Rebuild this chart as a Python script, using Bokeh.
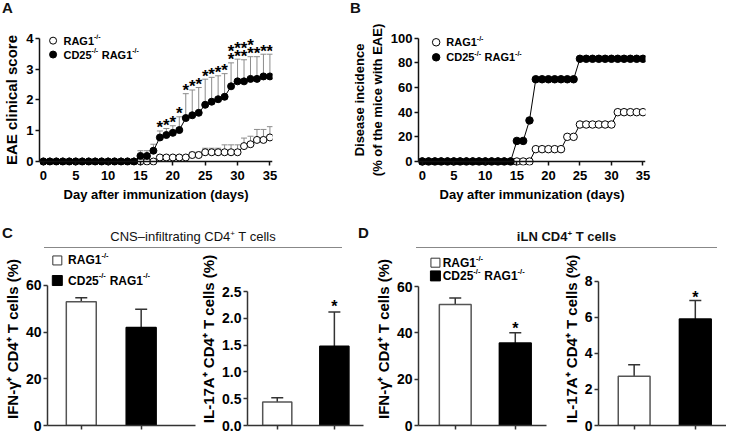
from bokeh.plotting import figure
from bokeh.models import (ColumnDataSource, Whisker, TeeHead, Label, Div, Range1d, Span,
                          FixedTicker, NumeralTickFormatter, CustomJSTickFormatter)
from bokeh.layouts import column, row
from bokeh.embed import file_html
from bokeh.resources import INLINE
from bokeh.core.properties import value

FONT = "Liberation Sans"

# ---------------- data ----------------
days = list(range(36))
day_ticks = [0, 5, 10, 15, 20, 25, 30, 35]

# Panel A: EAE clinical score (mean and mean+SEM)
eae_rag = [0] * 18 + [0.13] * 5 + [0.21] * 2 + [0.3] * 6 + [0.5, 0.56, 0.7, 0.7, 0.78]
eae_rag_upper = [0] * 18 + [0.13] * 5 + [0.3] * 2 + [0.43] * 3 + [0.54] * 3 + [0.76, 0.82, 1.04, 1.04, 1.13]
eae_cd25 = [0] * 15 + [0.18, 0.18, 0.35, 0.78, 0.86, 0.93, 1.02, 1.41, 1.5, 1.58, 1.84, 1.94,
                       2.02, 2.1, 2.44, 2.6, 2.6, 2.68, 2.68, 2.76, 2.76]
eae_cd25_upper = [0] * 15 + [0.35, 0.35, 0.56, 0.99, 1.07, 1.16, 1.45, 2.2, 2.32, 2.4, 2.67, 2.73,
                             2.78, 2.85, 3.2, 3.32, 3.3, 3.4, 3.4, 3.48, 3.48]
eae_ticks = [0, 1, 2, 3, 4]
star_days = list(range(18, 36))
double_star_days = [29, 30, 31, 32]

# Panel B: disease incidence (%)
inc_rag = [0] * 18 + [10] * 5 + [20] * 2 + [30] * 6 + [40] * 5
inc_cd25 = [0] * 15 + [16.7, 16.7, 33.3] + [66.7] * 7 + [83.3] * 11
inc_ticks = [0, 20, 40, 60, 80, 100]

# Panels C / D: bars (mean, mean+SEM), groups RAG1-/- and CD25-/- RAG1-/-
groups = ["RAG1-/-", "CD25-/- RAG1-/-"]
group_x = [1, 2]
cns_ifn = [53.0, 42.0]
cns_ifn_upper = [54.7, 49.8]
cns_ifn_sig = [False, False]
cns_il17 = [0.44, 1.48]
cns_il17_upper = [0.52, 2.12]
cns_il17_sig = [False, True]
iln_ifn = [52.2, 35.6]
iln_ifn_upper = [55.1, 40.0]
iln_ifn_sig = [False, True]
iln_il17 = [2.74, 5.92]
iln_il17_upper = [3.38, 6.94]
iln_il17_sig = [False, True]
pct_ticks = [0, 20, 40, 60]
il17_c_ticks = [0, 0.5, 1.0, 1.5, 2.0, 2.5]
il17_d_ticks = [0, 2, 4, 6, 8]

# ---------------- helpers ----------------
W = {"R": .722, "A": .722, "G": .778, "1": .556, "C": .722, "D": .722, "2": .556,
     "5": .556, " ": .278, "-": .333, "/": .278}


def tw(s, px):
    return sum(W.get(c, .6) for c in s) * px


def style_axes(p, tick_px=13, label_px=15, color="#111", tick_so=2, label_so=3):
    p.outline_line_color = None
    p.xgrid.visible = False
    p.ygrid.visible = False
    for ax in p.axis:
        ax.axis_line_color = color
        ax.axis_line_width = 1.5
        ax.major_tick_line_color = color
        ax.major_tick_line_width = 1.5
        ax.major_tick_out = 4
        ax.major_tick_in = 0
        ax.minor_tick_line_color = None
        ax.major_label_text_font = FONT
        ax.major_label_text_font_style = "bold"
        ax.major_label_text_font_size = f"{tick_px}px"
        ax.major_label_text_color = "black"
        ax.axis_label_text_font = FONT
        ax.axis_label_text_font_style = "bold"
        ax.axis_label_text_font_size = f"{label_px}px"
        ax.axis_label_text_color = "black"
        ax.major_label_standoff = tick_so
        ax.axis_label_standoff = label_so


def rich_label(p, x, y, parts, px, sup_px):
    off = 0.0
    for txt, sup, gap in parts:
        off += gap * px
        fs = sup_px if sup else px
        p.add_layout(Label(x=x, y=y, x_offset=off, y_offset=(px * 0.38 if sup else 0),
                           text=txt, text_font=FONT, text_font_style="bold",
                           text_font_size=f"{fs}px", text_baseline="middle",
                           text_color="black"))
        off += tw(txt, fs) + (0.5 if sup else 0)


LEG_A = [("RAG1", False, 0), ("-/-", True, 0)]
LEG_B = [("CD25", False, 0), ("-/-", True, 0), ("RAG1", False, 0.278), ("-/-", True, 0)]


def stars(p, xs, ys, px):
    p.text(x=xs, y=ys, text=["*"] * len(xs), text_font=value(FONT), text_font_style="bold",
           text_font_size=f"{px}px", text_align="center", text_baseline="middle",
           text_color="black")


# ---------------- top panels (time courses) ----------------
TOP_TOP = 18
TOP_BOT = 51
TOP_FRAME_H = 131
ZERO_GAP_PX = 4  # x-axis line sits at 0, frame bottom a tick-length below


def time_panel(frame_w, border_left, border_right, y_end, ticks, ylabel, ylabel_px):
    ppu = (TOP_FRAME_H - ZERO_GAP_PX) / y_end
    y0 = -ZERO_GAP_PX / ppu
    p = figure(frame_width=frame_w, frame_height=TOP_FRAME_H, x_range=Range1d(-0.6, 35.4),
               y_range=Range1d(y0, y_end),
               min_border_left=border_left, min_border_right=border_right,
               min_border_top=TOP_TOP, min_border_bottom=TOP_BOT,
               toolbar_location=None, output_backend="svg")
    style_axes(p, label_px=ylabel_px, tick_so=5, label_so=4)
    p.yaxis.major_label_standoff = 2
    p.yaxis.axis_label_standoff = 3
    p.xaxis.axis_label_text_font_size = "13px"
    p.xaxis.ticker = FixedTicker(ticks=day_ticks)
    p.yaxis.ticker = FixedTicker(ticks=ticks)
    p.yaxis.bounds = (0, ticks[-1])
    p.xaxis.axis_line_color = None
    p.xaxis.major_tick_in = ZERO_GAP_PX
    p.xaxis.major_tick_out = 0
    p.add_layout(Span(location=0, dimension="width", line_color="#111", line_width=1.5))
    p.xaxis.axis_label = "Day after immunization (days)"
    p.yaxis.axis_label = ylabel
    return p, ppu


pA, ppu_a = time_panel(233, 39, 76, 4.12, eae_ticks, "EAE clinical score", 15)

for mean, upper in ((eae_rag, eae_rag_upper), (eae_cd25, eae_cd25_upper)):
    idx = [i for i in days if upper[i] > mean[i] + 1e-9]
    src = ColumnDataSource(dict(x=[days[i] for i in idx], lo=[mean[i] for i in idx],
                                hi=[upper[i] for i in idx]))
    pA.add_layout(Whisker(source=src, base="x", lower="lo", upper="hi", dimension="height",
                          line_color="#8c8c8c", line_width=1,
                          upper_head=TeeHead(size=6, line_color="#8c8c8c", line_width=1),
                          lower_head=None))

pA.line(days, eae_rag, line_color="black", line_width=1)
pA.line(days, eae_cd25, line_color="black", line_width=1)
pA.scatter(days, eae_rag, size=7, marker="circle", fill_color="white", line_color="black", line_width=1)
pA.scatter(days, eae_cd25, size=7, marker="circle", fill_color="black", line_color="black")

sx = list(star_days) + list(double_star_days)
sy = [eae_cd25_upper[d] + 3 / ppu_a for d in star_days] + \
     [eae_cd25_upper[d] + 11 / ppu_a for d in double_star_days]
stars(pA, sx, sy, 17)

pA.scatter([1.5], [3.92], size=7, fill_color="white", line_color="black")
pA.scatter([1.5], [3.47], size=7, fill_color="black", line_color="black")
rich_label(pA, 3.1, 3.92, LEG_A, 11, 7)
rich_label(pA, 3.1, 3.47, LEG_B, 11, 7)

pB, ppu_b = time_panel(227, 70, 72, 103, inc_ticks,
                       "Disease incidence\n(% of the mice with EAE)", 13)
pB.line(days, inc_rag, line_color="black", line_width=1)
pB.line(days, inc_cd25, line_color="black", line_width=1)
pB.scatter(days, inc_rag, size=7.5, fill_color="white", line_color="black")
pB.scatter(days, inc_cd25, size=7.5, fill_color="black", line_color="black")
pB.scatter([2.2], [96.7], size=7.5, fill_color="white", line_color="black")
pB.scatter([2.2], [84.5], size=7.5, fill_color="black", line_color="black")
rich_label(pB, 3.8, 96.7, LEG_A, 11, 7)
rich_label(pB, 3.8, 84.5, LEG_B, 11, 7)

# ---------------- Panels C / D ----------------
BOT_FRAME_H = 173


def bar_panel(border_left, frame_w, border_right, xr, y_end, ticks, ylabel, means, uppers,
              sig, bw, star_px_gap, legend=None, fmt=None):
    p = figure(frame_width=frame_w, frame_height=BOT_FRAME_H,
               x_range=Range1d(*xr), y_range=Range1d(0, y_end),
               min_border_left=border_left, min_border_right=border_right,
               min_border_top=4, min_border_bottom=8,
               toolbar_location=None, output_backend="svg")
    style_axes(p, tick_px=14, label_px=15, color="#333", tick_so=2, label_so=2)
    p.yaxis.ticker = FixedTicker(ticks=ticks)
    p.yaxis.bounds = (0, ticks[-1])
    if fmt:
        p.yaxis.formatter = NumeralTickFormatter(format=fmt)
    p.xaxis.ticker = FixedTicker(ticks=group_x)
    p.xaxis.formatter = CustomJSTickFormatter(code="return ''")
    p.xaxis.major_label_standoff = 0
    p.yaxis.axis_label = ylabel
    ppu = BOT_FRAME_H / y_end
    src = ColumnDataSource(dict(x=group_x, lo=means, hi=uppers))
    p.add_layout(Whisker(source=src, base="x", lower="lo", upper="hi", dimension="height",
                         line_color="#333", line_width=1.5,
                         upper_head=TeeHead(size=12, line_color="#333", line_width=1.5),
                         lower_head=None))
    p.vbar(x=group_x, top=means, width=bw, bottom=0, fill_color=["white", "black"],
           line_color=["#555", "black"], line_width=1.5)
    sxs = [group_x[i] for i in range(2) if sig[i]]
    sys_ = [uppers[i] + star_px_gap / ppu for i in range(2) if sig[i]]
    if sxs:
        stars(p, sxs, sys_, 16)
    if legend:
        lx, tx, y1, y2 = legend
        p.scatter([lx], [y1], marker="square", size=9, fill_color="white", line_color="#333",
                  line_width=1)
        p.scatter([lx], [y2], marker="square", size=10, fill_color="black", line_color="black")
        rich_label(p, tx, y1, LEG_A, 12, 7.5)
        rich_label(p, tx, y2, LEG_B, 12, 7.5)
    return p


ifn_label = "IFN-\u03b3\u207a CD4\u207a T cells (%)"
il17_label = "IL-17A\u207a CD4\u207a T cells (%)"

pC1 = bar_panel(42, 148, 2, (0.436, 2.907), 74.1, pct_ticks, ifn_label, cns_ifn, cns_ifn_upper,
                cns_ifn_sig, 0.5, 5, legend=(0.6, 0.78, 70.7, 62.1))
pC2 = bar_panel(46, 116, 2, (0.479, 2.51), 3.23, il17_c_ticks, il17_label, cns_il17,
                cns_il17_upper, cns_il17_sig, 0.51, 5, fmt="0.0")
pD1 = bar_panel(53, 128, 8, (0.388, 2.52), 74.7, pct_ticks, ifn_label, iln_ifn, iln_ifn_upper,
                iln_ifn_sig, 0.53, 4, legend=(0.67, 0.79, 70.3, 64.6))
pD2 = bar_panel(44, 128, 0, (0.417, 2.51), 9.61, il17_d_ticks, il17_label, iln_il17,
                iln_il17_upper, iln_il17_sig, 0.52, 3)


# ---------------- headers (divs) ----------------
def letter_div(letter, width):
    return Div(text=f'<div style="width:{width}px;height:16px;font-family:{FONT};font-weight:bold;'
                    f'font-size:15px;color:#111;padding-left:2px;line-height:15px;">{letter}</div>',
               width=width, height=16, margin=0)


def header_div(letter, title, width, line_left, line_w, weight):
    html = (f'<div style="position:relative;width:{width}px;height:32px;font-family:{FONT};color:#111;">'
            f'<div style="position:absolute;left:2px;top:9px;font-size:15px;font-weight:bold;line-height:16px;">{letter}</div>'
            f'<div style="position:absolute;left:{line_left}px;width:{line_w}px;top:10px;text-align:center;'
            f'font-size:13px;font-weight:{weight};line-height:15px;">{title}</div>'
            f'<div style="position:absolute;left:{line_left}px;width:{line_w}px;top:31px;height:0;'
            f'border-top:1px solid #888;"></div></div>')
    return Div(text=html, width=width, height=32, margin=0)


dA = letter_div("A", 348)
dB = letter_div("B", 369)
dC = header_div("C", 'CNS\u2013infiltrating CD4<sup style="font-size:8px;">+</sup> T cells',
                356, 44, 298, "normal")
dD = header_div("D", 'iLN CD4<sup style="font-size:8px;">+</sup> T cells', 361, 60, 301, "bold")

layout = column(row(dA, dB, spacing=0), row(pA, pB, spacing=0), row(dC, dD, spacing=0),
                row(pC1, pC2, pD1, pD2, spacing=0), spacing=0)

open("out.html", "w").write(file_html(layout, INLINE))
